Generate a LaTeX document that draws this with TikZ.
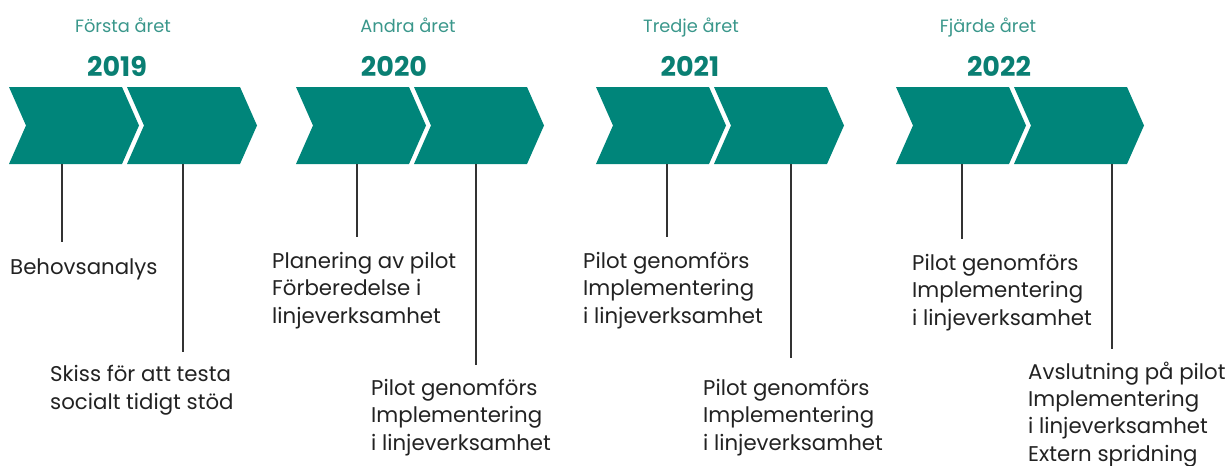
\documentclass[tikz,border=0pt]{standalone}
\usepackage{fontspec}
\setmainfont{Poppins}
\definecolor{chev}{HTML}{00857A}
\definecolor{yeartxt}{HTML}{0A7F73}
\definecolor{titletxt}{HTML}{3A978B}
\definecolor{bodytxt}{HTML}{222222}
\definecolor{linec}{HTML}{333333}
\tikzset{
  chevron/.style={fill=chev},
  conn/.style={draw=linec, line width=1.8pt},
  yeartitle/.style={text=titletxt, font=\fontsize{17.8}{21}\selectfont, anchor=base, inner sep=0pt},
  yearnum/.style={text=yeartxt, font=\fontsize{27}{30}\selectfont\bfseries, anchor=base, inner sep=0pt},
  body/.style={text=bodytxt, font=\fontsize{21.3}{27.3}\selectfont, align=left, anchor=base west, inner sep=0pt},
}
\newcommand\chevpair[1]{%
  \path[chevron] (#1,87) -- (#1+113,87) -- (#1+130,125.5) -- (#1+113,164) -- (#1,164) -- (#1+17,125.5) -- cycle;
  \path[chevron] (#1+118,87) -- (#1+231,87) -- (#1+248,125.5) -- (#1+231,164) -- (#1+118,164) -- (#1+135,125.5) -- cycle;
}
\begin{document}
\begin{tikzpicture}[x=1pt,y=-1pt]
\useasboundingbox (0,0) rectangle (1232,466);
% chevrons
\chevpair{9}
\chevpair{296}
\chevpair{596}
\chevpair{896}
% titles
\node[yeartitle] (t1) at (123,32) {Första året};
\node[yeartitle] (t2) at (408,32) {Andra året};
\node[yeartitle] (t3) at (691,32) {Tredje året};
\node[yeartitle] (t4) at (988,32) {Fjärde året};
\node[yearnum] (y1) at (117,76) {2019};
\node[yearnum] (y2) at (394,76) {2020};
\node[yearnum] (y3) at (690,76) {2021};
\node[yearnum] (y4) at (999,76) {2022};
% texts (base anchor = baseline of last line)
\node[body] (a1) at (10,274) {Behovsanalys};
\node[body] (b1) at (50,409) {Skiss för att testa\\socialt tidigt stöd};
\node[body] (a2) at (272,323) {Planering av pilot\\Förberedelse i\\linjeverksamhet};
\node[body] (b2) at (371,450) {Pilot genomförs\\Implementering\\i linjeverksamhet};
\node[body] (a3) at (583,323) {Pilot genomförs\\Implementering\\i linjeverksamhet};
\node[body] (b3) at (703,450) {Pilot genomförs\\Implementering\\i linjeverksamhet};
\node[body] (a4) at (912,325) {Pilot genomförs\\Implementering\\i linjeverksamhet};
\node[body] (b4) at (1028,461) {Avslutning på pilot\\Implementering\\i linjeverksamhet\\Extern spridning};
% connector end points
\coordinate (s1a) at (62,164);  \coordinate (e1a) at (62,242);
\coordinate (s1b) at (183,164); \coordinate (e1b) at (183,352);
\coordinate (s2a) at (357,164); \coordinate (e2a) at (357,237);
\coordinate (s2b) at (476,164); \coordinate (e2b) at (476,365);
\coordinate (s3a) at (667,164); \coordinate (e3a) at (667,237);
\coordinate (s3b) at (791,164); \coordinate (e3b) at (791,358);
\coordinate (s4a) at (962,164); \coordinate (e4a) at (962,239);
\coordinate (s4b) at (1112,164); \coordinate (e4b) at (1112,349);
\foreach \g in {1a,1b,2a,2b,3a,3b,4a,4b}{\draw[conn] (s\g) -- (e\g);}
\end{tikzpicture}
\end{document}
